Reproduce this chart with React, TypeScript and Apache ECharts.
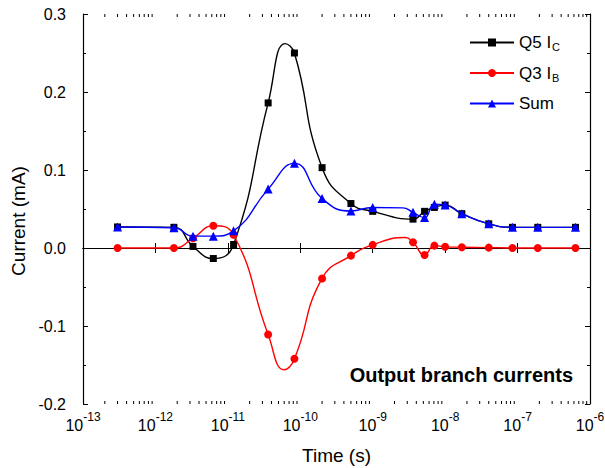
import React, { useEffect, useRef } from "react";
import * as echarts from "echarts";

// Sample times (s) shared by all three traces
const TIMES = [
  3.0e-13, 1.8e-12, 3.3e-12, 6.3e-12, 1.2e-11, 3.6e-11, 8.3e-11, 2.0e-10,
  5.0e-10, 1.0e-9, 3.6e-9, 5.2e-9, 7.1e-9, 1.0e-8, 1.7e-8, 4.0e-8, 8.5e-8,
  1.9e-7, 6.3e-7,
];

// Branch currents (mA) at the sample times
const Q5_IC = [
  0.027, 0.0265, 0.002, -0.0135, 0.0045, 0.186, 0.25, 0.103, 0.057, 0.047,
  0.037, 0.047, 0.052, 0.055, 0.044, 0.031, 0.0265, 0.0265, 0.0265,
];
const Q3_IB = [
  0, 0, 0.0125, 0.0285, 0.017, -0.111, -0.142, -0.039, -0.0098, 0.004, 0.0073,
  -0.009, 0.003, 0.0015, 0.001, 0.0005, 0, 0, 0,
];
const SUM_I = [
  0.027, 0.026, 0.0152, 0.0152, 0.022, 0.0755, 0.1085, 0.0635, 0.0474, 0.052,
  0.0457, 0.039, 0.056, 0.055, 0.044, 0.031, 0.0265, 0.0265, 0.0265,
];

// Extremes of the fitted curves that fall between samples (drawn without markers)
const Q5_IC_APEX_T = [6.2e-11];
const Q5_IC_APEX = [0.262];
const Q3_IB_APEX_T = [6.0e-11, 2.8e-9];
const Q3_IB_APEX = [-0.156, 0.0135];
const SUM_I_APEX_T = [2.6e-9];
const SUM_I_APEX = [0.0515];

// Axis ranges / ticks
const X_MIN = 1e-13;
const X_MAX = 1e-6;
const Y_MIN = -0.2;
const Y_MAX = 0.3;
const Y_STEP = 0.1;
const DECADE_TICKS = [1e-13, 1e-12, 1e-11, 1e-10, 1e-9, 1e-8, 1e-7, 1e-6];
const MINOR_MANTISSAS = [2, 3, 4, 5, 6, 7, 8, 9];
const DECADES = [-13, -12, -11, -10, -9, -8, -7];

const SERIES_NAMES = ["Q5 IC", "Q3 IB", "Sum"];
const LEGEND_LABELS: Record<string, string> = {
  "Q5 IC": "Q5 I{sub|C}",
  "Q3 IB": "Q3 I{sub|B}",
  Sum: "Sum",
};

const FONT = "'Liberation Sans', Arial, Helvetica, sans-serif";
const BASE_FONT = `16px ${FONT}`;
const SUP_FONT = `12px ${FONT}`;

function curve(ys: number[], extraT: number[], extraY: number[]) {
  const items: any[] = TIMES.map((t, i) => ({ value: [t, ys[i]] }));
  extraT.forEach((t, i) =>
    items.push({ value: [t, extraY[i]], symbol: "none" })
  );
  return items.sort((a, b) => a.value[0] - b.value[0]);
}

function textWidth(text: string, font: string) {
  const ctx = document.createElement("canvas").getContext("2d");
  if (!ctx) return text.length * 8;
  ctx.font = font;
  return ctx.measureText(text).width;
}

export default function App() {
  const ref = useRef<HTMLDivElement>(null);

  useEffect(() => {
    document.body.style.margin = "0";
    if (!ref.current) return;
    const chart = echarts.init(ref.current, undefined, { renderer: "svg" });

    const minorTicks: number[][] = [];
    DECADES.forEach((d) =>
      MINOR_MANTISSAS.forEach((m) => minorTicks.push([m * Math.pow(10, d), 0]))
    );

    const axisLine = { show: true, lineStyle: { color: "#000", width: 1.2 } };

    const xBase = {
      type: "log" as const,
      logBase: 10,
      min: X_MIN,
      max: X_MAX,
      interval: 1,
      axisLine,
      axisTick: { show: true, inside: true, length: 5, lineStyle: { color: "#000", width: 1 } },
      axisLabel: { show: false },
      splitLine: { show: false },
      minorTick: { show: false },
    };
    const yBase = {
      type: "value" as const,
      min: Y_MIN,
      max: Y_MAX,
      interval: Y_STEP,
      axisLine,
      axisTick: { show: true, inside: true, length: 5, lineStyle: { color: "#000", width: 1 } },
      minorTick: { show: true, splitNumber: 2, length: 3, lineStyle: { color: "#000", width: 1 } },
      splitLine: { show: false },
    };

    const baseW = textWidth("10", BASE_FONT);

    chart.setOption({
      animation: false,
      backgroundColor: "#fff",
      textStyle: { fontFamily: FONT },
      grid: {
        left: 83,
        right: 15,
        top: 14,
        bottom: 64,
        containLabel: false,
        outerBoundsMode: "none",
      },
      xAxis: [
        {
          ...xBase,
          position: "bottom",
          name: "Time (s)",
          nameLocation: "middle",
          nameGap: 42,
          nameTextStyle: { fontSize: 19, color: "#000", fontFamily: FONT },
        },
        {
          ...xBase,
          position: "top",
        },
      ],
      yAxis: [
        {
          ...yBase,
          position: "left",
          axisLabel: {
            color: "#000",
            fontSize: 16,
            margin: 17,
            fontFamily: FONT,
            formatter: (v: number) => v.toFixed(1),
          },
        },
        {
          ...yBase,
          position: "right",
          axisLabel: { show: false },
        },
      ],
      legend: {
        data: SERIES_NAMES,
        orient: "vertical",
        left: 469,
        top: 34,
        itemWidth: 44,
        itemHeight: 10,
        itemGap: 12,
        padding: 0,
        formatter: (name: string) => LEGEND_LABELS[name] ?? name,
        textStyle: {
          color: "#000",
          fontSize: 17,
          fontFamily: FONT,
          rich: {
            sub: {
              fontSize: 11,
              verticalAlign: "bottom",
              padding: [9, 0, 0, 1],
              color: "#000",
              fontFamily: FONT,
            },
          },
        },
      },
      graphic: [
        {
          type: "text",
          right: 32,
          top: 365,
          style: {
            text: "Output branch currents",
            font: `bold 20px ${FONT}`,
            fill: "#000",
          },
        },
        {
          // vertical axis title
          type: "text",
          x: 18,
          y: 221,
          rotation: Math.PI / 2,
          style: {
            text: "Current (mA)",
            font: `19px ${FONT}`,
            fill: "#000",
            align: "center",
            verticalAlign: "middle",
          },
        },
      ],
      series: [
        {
          name: "Q5 IC",
          type: "line",
          data: curve(Q5_IC, Q5_IC_APEX_T, Q5_IC_APEX),
          smooth: true,
          symbol: "rect",
          symbolSize: 7,
          lineStyle: { color: "#000", width: 1.4 },
          itemStyle: { color: "#000" },
          z: 3,
        },
        {
          name: "Q3 IB",
          type: "line",
          data: curve(Q3_IB, Q3_IB_APEX_T, Q3_IB_APEX),
          smooth: true,
          symbol: "circle",
          symbolSize: 8,
          lineStyle: { color: "#ff0000", width: 1.4 },
          itemStyle: { color: "#ff0000" },
          z: 4,
        },
        {
          name: "Sum",
          type: "line",
          data: curve(SUM_I, SUM_I_APEX_T, SUM_I_APEX),
          smooth: true,
          symbol: "triangle",
          symbolSize: 9,
          lineStyle: { color: "#0000ff", width: 1.4 },
          itemStyle: { color: "#0000ff" },
          z: 5,
        },
        {
          // minor log ticks on the bottom and top axes
          name: "minor log ticks",
          type: "custom",
          silent: true,
          data: minorTicks,
          z: 10,
          renderItem: (_params: any, api: any) => {
            const t = api.value(0);
            const b = api.coord([t, Y_MIN]);
            const top = api.coord([t, Y_MAX]);
            const style = { stroke: "#000", lineWidth: 1 };
            return {
              type: "group",
              children: [
                {
                  type: "line",
                  shape: { x1: b[0], y1: b[1], x2: b[0], y2: b[1] - 3 },
                  style,
                },
                {
                  type: "line",
                  shape: { x1: top[0], y1: top[1], x2: top[0], y2: top[1] + 3 },
                  style,
                },
              ],
            };
          },
        },
        {
          // decade labels "10^n" under the bottom axis
          name: "decade labels",
          type: "custom",
          silent: true,
          clip: false,
          data: DECADE_TICKS.map((t) => [t, Y_MIN]),
          z: 10,
          renderItem: (_params: any, api: any) => {
            const t = api.value(0);
            const p = api.coord([t, Y_MIN]);
            const exp = String(Math.round(Math.log10(t)));
            const supW = textWidth(exp, SUP_FONT);
            const x0 = p[0] - (baseW + supW) / 2;
            return {
              type: "group",
              children: [
                {
                  type: "text",
                  x: x0,
                  y: p[1] + 21,
                  style: {
                    text: "10",
                    font: BASE_FONT,
                    fill: "#000",
                    align: "left",
                    verticalAlign: "middle",
                  },
                },
                {
                  type: "text",
                  x: x0 + baseW,
                  y: p[1] + 12.5,
                  style: {
                    text: exp,
                    font: SUP_FONT,
                    fill: "#000",
                    align: "left",
                    verticalAlign: "middle",
                  },
                },
              ],
            };
          },
        },
      ],
    });

    return () => chart.dispose();
  }, []);

  return <div ref={ref} style={{ width: 605, height: 468 }} />;
}
